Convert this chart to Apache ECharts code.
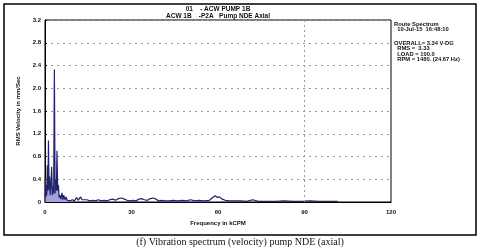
<!DOCTYPE html>
<html>
<head>
<meta charset="utf-8">
<script src="https://cdn.jsdelivr.net/npm/echarts@6/dist/echarts.min.js"></script>
<style>
html,body{margin:0;padding:0;background:#fff;}
#c{width:480px;height:250px;}
</style>
</head>
<body>
<div id="c"></div>
<script>
// ---- data ----
var freqKCPM = [0.0,0.1,0.25,0.45,0.6,0.8,1.0,1.2,1.4,1.6,1.8,2.05,2.3,2.55,2.8,3.0,3.25,3.5,3.75,3.95,4.15,4.4,4.65,4.9,5.2,5.5,5.9,6.2,6.5,6.9,7.3,7.7,8.2,8.8,9.5,10.2,11.0,11.5,12.3,12.9,13.5,14.5,15.5,16.5,17.5,18.5,19.5,20.5,21.5,22.5,23.5,24.5,25.5,26.5,27.5,28.5,29.5,30.5,31.5,32.5,33.5,34.5,35.5,36.5,37.5,38.5,39.5,40.5,41.5,43,44.5,46,47.5,49,50.5,52,53.5,55,57,58,59,59.8,60.5,61.5,62.5,64,66,68,70,72,74,76,78,80,83,86,89,92,95,98,101.5];
var rmsVelocity = [0.0,0.42,0.08,0.3,0.12,0.64,0.2,1.08,0.22,0.45,0.12,0.3,0.62,0.12,0.28,0.15,2.33,0.15,0.4,0.2,0.9,0.2,0.3,0.08,0.12,0.05,0.16,0.04,0.12,0.04,0.09,0.03,0.06,0.02,0.04,0.02,0.08,0.03,0.09,0.04,0.03,0.04,0.02,0.03,0.02,0.04,0.02,0.03,0.02,0.04,0.05,0.03,0.06,0.07,0.05,0.03,0.02,0.03,0.02,0.05,0.06,0.04,0.03,0.06,0.07,0.05,0.02,0.03,0.02,0.02,0.03,0.02,0.03,0.02,0.04,0.02,0.03,0.02,0.03,0.07,0.11,0.08,0.09,0.05,0.03,0.02,0.02,0.02,0.01,0.04,0.01,0.01,0.01,0.01,0.02,0.01,0.01,0.02,0.01,0.01,0.01];
var filledBandMaxFreq = 10;
var guideFreq = [90];
var titleLines = ['01    - ACW PUMP 1B', 'ACW 1B    -P2A   Pump NDE Axial'];
var infoLines1 = ['Route Spectrum', '  10-Jul-15  16:48:10'];
var infoLines2 = ['OVERALL= 3.34 V-DG', '  RMS =  3.33', '  LOAD = 100.0', '  RPM = 1480. (24.67 Hz)'];
var yAxisTitle = 'RMS Velocity in mm/Sec';
var xAxisTitle = 'Frequency in kCPM';
var caption = '(f) Vibration spectrum (velocity) pump NDE (axial)';

var series = freqKCPM.map(function (f, i) { return [f, rmsVelocity[i]]; });
var lowBand = series.filter(function (p) { return p[0] <= filledBandMaxFreq; });
var chart = echarts.init(document.getElementById('c'), null, {renderer: 'canvas'});
var FONT = 'Liberation Sans, Arial, sans-serif';
chart.setOption({
  animation: false,
  backgroundColor: '#fff',
  grid: {left: 45, top: 20, right: 89, bottom: 48, show: true, borderColor: '#000', borderWidth: 1},
  title: [
    {text: titleLines.join('\n'), left: 218, top: 6, padding: 0, textAlign: 'center',
     textStyle: {fontFamily: FONT, fontSize: 6.5, fontWeight: 'bold', color: '#111', lineHeight: 7}},
  ],
  xAxis: {
    type: 'value', min: 0, max: 120, interval: 30,
    name: xAxisTitle, nameLocation: 'middle', nameGap: 14,
    nameTextStyle: {fontFamily: FONT, fontSize: 6, fontWeight: 'bold', color: '#111'},
    axisLine: {show: true, lineStyle: {color: '#000', width: 1}},
    axisTick: {show: false},
    axisLabel: {fontFamily: FONT, fontSize: 6, fontWeight: 'bold', color: '#111', margin: 7},
    splitLine: {show: false}
  },
  yAxis: {
    type: 'value', min: 0, max: 3.2, interval: 0.4,
    name: yAxisTitle, nameLocation: 'middle', nameGap: 15, nameRotate: 90,
    nameTextStyle: {fontFamily: FONT, fontSize: 6, fontWeight: 'bold', color: '#111'},
    axisLine: {show: true, lineStyle: {color: '#000', width: 1}},
    axisTick: {show: true, inside: true, length: 2, lineStyle: {color: '#000'}},
    axisLabel: {fontFamily: FONT, fontSize: 6, fontWeight: 'bold', color: '#111', margin: 4,
      formatter: function (v) { return v === 0 ? '0' : v.toFixed(1); }},
    splitLine: {show: true, lineStyle: {color: '#9a9a9a', width: 1, type: [2, 4]}}
  },
  series: [{
    type: 'line', data: lowBand, symbol: 'none', silent: true, z: 1,
    lineStyle: {width: 0},
    areaStyle: {color: '#a4a4d8', opacity: 1}
  }, {
    type: 'line', data: series, symbol: 'none', silent: true, z: 2,
    lineStyle: {color: '#22226e', width: 1.2},
    markLine: {
      silent: true, symbol: 'none', label: {show: false},
      lineStyle: {color: '#9a9a9a', type: [2, 3], width: 1},
      data: guideFreq.map(function (g) { return {xAxis: g}; })
    }
  }],
  graphic: [
    {type: 'rect', shape: {x: 4, y: 4, width: 472, height: 231}, style: {fill: 'none', stroke: '#000', lineWidth: 1.5}, z: 100},
    {type: 'text', left: 394, top: 21, style: {text: infoLines1.join('\n'), font: 'bold 5.8px ' + FONT, fill: '#111', lineHeight: 5.5}},
    {type: 'text', left: 394, top: 40, style: {text: infoLines2.join('\n'), font: 'bold 5.8px ' + FONT, fill: '#111', lineHeight: 5.5}},
    {type: 'text', left: 'center', top: 237, style: {text: caption, font: '10px Liberation Serif, Times New Roman, serif', fill: '#111'}}
  ]
});
</script>
</body>
</html>
